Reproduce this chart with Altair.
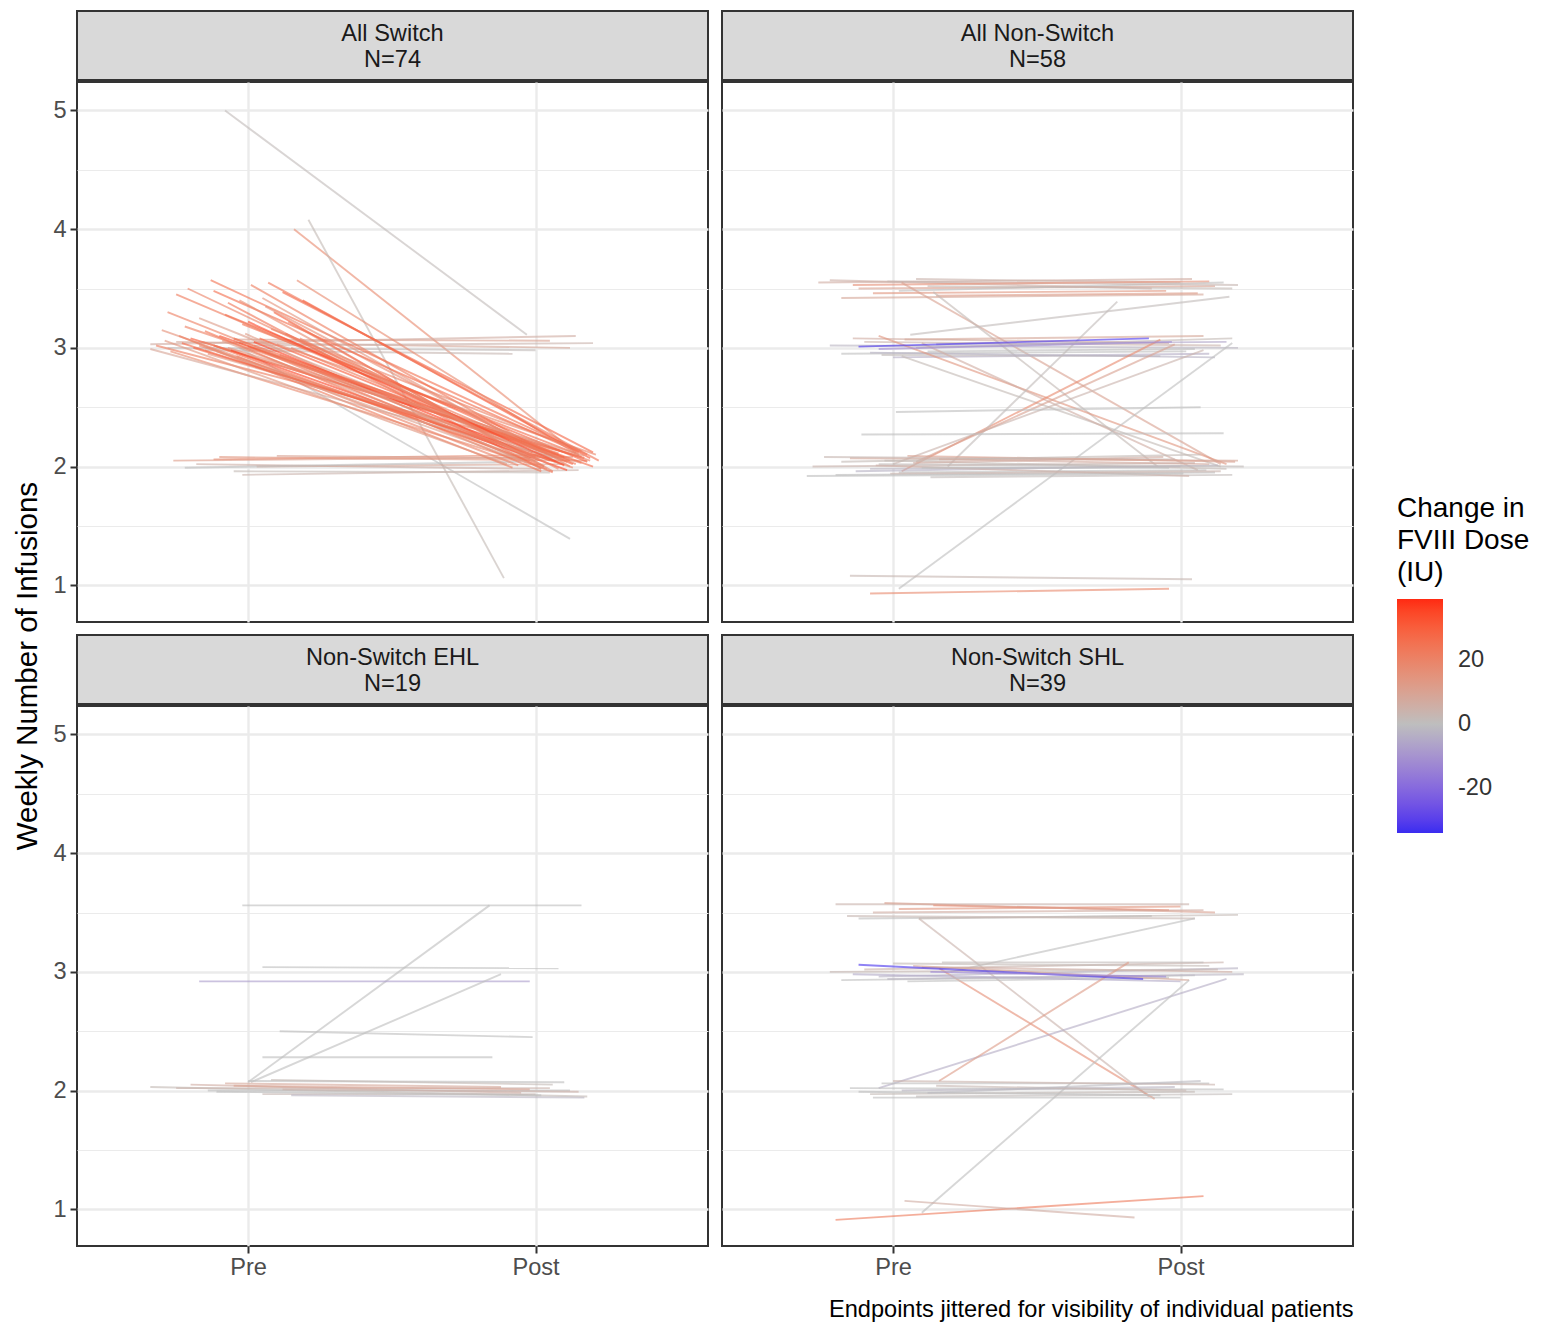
import altair as alt
import pandas as pd

FONT = "Liberation Sans"
PANEL_TITLES = ["All Switch", "All Non-Switch", "Non-Switch EHL", "Non-Switch SHL"]
PANEL_N = [74, 58, 19, 39]
X_TICK_VALUES = [1, 2]
X_TICK_LABELS = ["Pre", "Post"]
Y_GRID_VALUES = [1, 1.5, 2, 2.5, 3, 3.5, 4, 4.5, 5]
LEGEND_VALUES = [-20, 0, 20]
COLOR_STOPS = [-34, 0, 39]
COLOR_RANGE = ["#3A2CF0", "#BEBEBE", "#FF2A12"]
COLUMNS = ["pre_x", "pre_y", "post_x", "post_y", "change"]

# (pre_x jittered, pre_y, post_x jittered, post_y, change in dose)
all_switch = [
    (0.92, 5.00, 1.97, 3.11, 1), (1.16, 4.00, 2.15, 2.10, 18), (1.21, 4.08, 1.89, 1.06, 2),
    (0.97, 3.00, 2.12, 1.39, 0),
    (0.66, 3.03, 2.14, 3.10, 6), (0.75, 3.05, 2.12, 3.00, 8), (0.85, 2.98, 1.92, 2.95, 3),
    (0.95, 3.07, 2.05, 3.06, 10), (1.02, 3.02, 2.20, 3.04, 4), (0.72, 3.00, 2.00, 2.98, 1),
    (0.74, 2.05, 2.13, 2.08, 12), (0.82, 2.02, 2.02, 1.98, 5), (0.90, 2.08, 2.18, 2.05, 14),
    (0.95, 1.96, 2.05, 1.95, 2), (1.03, 2.00, 2.10, 2.02, 8), (0.78, 1.99, 1.95, 2.04, 0),
    (0.88, 2.06, 2.08, 2.10, 16), (1.10, 2.09, 1.97, 2.07, 10), (0.98, 1.93, 2.15, 1.97, 4),
    (0.79, 3.50, 2.05, 2.05, 20), (0.87, 3.57, 2.18, 2.10, 25), (1.01, 3.53, 2.12, 2.00, 22),
    (1.12, 3.47, 2.20, 2.12, 28), (1.17, 3.57, 2.16, 2.08, 18), (1.05, 3.42, 2.08, 2.03, 15),
    (0.93, 3.38, 2.02, 1.98, 24), (1.09, 3.30, 1.98, 2.06, 30), (0.83, 3.25, 2.10, 2.02, 12),
    (0.98, 3.20, 2.14, 2.11, 26), (1.14, 3.22, 2.06, 1.96, 20), (0.70, 3.15, 2.00, 2.04, 16),
    (0.76, 3.10, 1.92, 1.99, 22), (0.80, 3.08, 2.17, 2.07, 32), (0.84, 3.05, 2.09, 2.13, 18),
    (0.88, 3.02, 2.03, 2.00, 27), (0.91, 3.06, 1.96, 2.09, 14), (0.94, 2.98, 2.11, 1.97, 35),
    (0.97, 3.04, 2.19, 2.05, 20), (1.00, 3.01, 2.07, 2.10, 25), (1.04, 3.08, 2.13, 2.02, 30),
    (1.07, 2.96, 2.01, 2.06, 12), (0.68, 3.02, 2.15, 2.09, 22), (0.73, 2.97, 2.04, 1.98, 18),
    (0.81, 3.00, 1.99, 2.12, 28), (0.86, 2.95, 2.16, 2.03, 15), (0.90, 3.10, 2.10, 2.08, 33),
    (0.96, 2.93, 1.94, 2.01, 20), (1.03, 2.99, 2.06, 1.95, 24), (1.10, 3.03, 2.21, 2.10, 19),
    (1.13, 3.12, 2.12, 2.05, 26), (0.78, 3.18, 2.08, 2.11, 21), (0.92, 3.28, 2.18, 2.04, 29),
    (1.06, 3.35, 2.05, 2.09, 17), (0.75, 3.45, 2.14, 2.02, 23), (1.19, 3.40, 2.19, 2.07, 31),
    (0.99, 3.12, 1.97, 2.03, 13), (0.85, 3.14, 2.02, 1.96, 25), (1.08, 3.16, 2.16, 2.13, 20),
    (0.66, 2.99, 2.09, 2.06, 9), (0.71, 3.06, 1.90, 2.02, 14), (0.95, 3.08, 2.20, 2.00, 27),
    (1.02, 3.05, 2.00, 2.08, 36), (1.15, 3.00, 2.11, 2.04, 22), (0.89, 2.97, 1.93, 2.07, 11),
    (0.83, 3.02, 2.13, 1.99, 19), (1.11, 2.94, 2.04, 2.11, 23), (0.77, 3.04, 2.07, 2.04, 28),
    (0.93, 3.00, 2.17, 2.09, 16), (1.00, 3.22, 2.10, 2.01, 34), (0.72, 3.30, 2.01, 2.06, 21),
    (0.88, 3.48, 2.15, 2.12, 26), (1.07, 3.55, 2.22, 2.05, 24), (0.97, 3.40, 2.03, 2.00, 18),
    (1.18, 3.08, 2.08, 1.98, 20),
]

all_non_switch = [
    (0.74, 3.55, 2.04, 3.58, 6), (0.88, 3.50, 2.12, 3.52, 10), (1.08, 3.58, 2.00, 3.55, 4),
    (0.93, 3.46, 1.95, 3.48, 14), (1.12, 3.52, 2.18, 3.50, 2), (0.82, 3.42, 2.08, 3.45, 8),
    (1.02, 3.48, 2.15, 3.55, 0), (0.78, 3.57, 1.90, 3.50, 5), (1.15, 3.44, 2.06, 3.46, 12),
    (0.98, 3.56, 2.20, 3.53, 3), (0.86, 3.53, 2.10, 3.56, 16),
    (1.03, 3.55, 2.14, 2.02, 10), (1.14, 3.47, 1.92, 2.00, 2),
    (1.06, 3.11, 2.17, 3.43, 1),
    (0.82, 2.95, 2.02, 2.97, 0), (0.90, 3.05, 2.14, 3.02, 4), (1.00, 2.92, 2.10, 2.95, -4),
    (1.08, 3.00, 2.18, 3.08, 2), (0.86, 3.08, 1.96, 3.04, 6), (1.12, 2.97, 2.05, 2.99, 0),
    (0.78, 3.02, 2.20, 3.00, -2), (0.96, 2.94, 1.93, 2.93, 1), (1.04, 3.07, 2.08, 3.10, 8),
    (1.15, 3.03, 2.16, 3.05, -6), (0.92, 2.96, 2.12, 2.92, -3),
    (0.95, 3.10, 2.16, 2.02, 14), (1.03, 2.93, 2.14, 2.00, 2), (1.10, 3.04, 2.06, 1.97, 6),
    (1.03, 1.96, 1.93, 3.07, 18), (1.19, 2.00, 1.78, 3.39, 1), (1.00, 2.02, 2.08, 2.98, 4),
    (1.08, 2.04, 1.98, 3.03, 10),
    (1.02, 0.97, 2.18, 3.04, 0),
    (1.01, 2.46, 2.07, 2.50, 0), (0.89, 2.27, 2.15, 2.28, 0),
    (0.72, 2.00, 2.05, 2.03, 4), (0.80, 1.93, 2.12, 1.95, 0), (0.85, 2.07, 2.20, 2.05, 8),
    (0.92, 1.98, 2.00, 2.00, -2), (0.97, 2.05, 2.16, 1.98, 2), (1.02, 1.95, 2.09, 1.97, 0),
    (1.07, 2.03, 1.94, 2.08, 6), (1.13, 1.91, 2.18, 1.93, 1), (0.76, 2.08, 1.98, 2.06, 3),
    (0.87, 1.96, 2.13, 2.01, -3), (0.94, 2.01, 2.03, 1.92, 5), (1.05, 2.09, 2.19, 2.04, 10),
    (1.10, 1.99, 1.96, 1.99, 0), (0.82, 2.04, 2.07, 2.10, 2), (0.99, 1.94, 2.14, 1.96, 4),
    (0.70, 1.92, 2.01, 1.94, 0), (1.16, 2.06, 2.10, 2.02, 7), (0.95, 2.02, 2.22, 2.00, 1),
    (0.88, 3.01, 1.89, 3.08, -32), (0.95, 2.99, 1.97, 3.05, -12),
    (0.85, 1.08, 2.04, 1.05, 3), (0.92, 0.93, 1.96, 0.97, 18),
]

non_switch_ehl = [
    (0.98, 3.56, 2.16, 3.56, 0), (1.00, 2.07, 1.84, 3.56, 0), (1.05, 3.04, 2.08, 3.03, 0),
    (0.83, 2.92, 1.98, 2.92, -8), (1.01, 2.07, 1.88, 2.98, 0), (1.11, 2.50, 1.99, 2.45, 0),
    (1.05, 2.28, 1.85, 2.28, 0),
    (0.66, 2.03, 2.18, 1.95, 2), (0.75, 2.02, 2.05, 2.02, 4), (0.80, 2.05, 1.95, 1.98, 6),
    (0.86, 2.00, 2.12, 2.00, 0), (0.92, 2.06, 1.88, 2.03, 8), (1.00, 2.08, 2.10, 2.07, 0),
    (1.05, 1.97, 2.00, 1.97, 3), (1.12, 2.01, 2.15, 1.99, 5), (0.95, 2.04, 1.98, 2.01, 10),
    (1.08, 2.09, 2.06, 2.05, 2), (0.89, 1.99, 2.02, 1.96, 0), (1.15, 1.96, 2.17, 1.94, -2),
]

non_switch_shl = [
    (0.80, 3.57, 2.03, 3.57, 4), (1.02, 3.53, 2.00, 3.55, 14), (1.14, 3.56, 1.96, 3.52, 20),
    (0.93, 3.50, 2.08, 3.52, 6), (0.88, 3.45, 1.90, 3.47, 0), (1.09, 3.45, 2.20, 3.48, 2),
    (0.97, 3.58, 2.12, 3.50, 10), (0.84, 3.47, 2.05, 3.45, 3),
    (1.09, 3.45, 1.89, 1.95, 4), (1.16, 3.03, 1.91, 1.93, 16),
    (1.20, 3.00, 2.05, 3.45, 0),
    (0.82, 2.93, 2.05, 2.97, 0), (0.90, 3.02, 2.15, 3.08, 4), (0.95, 2.96, 2.20, 3.03, -3),
    (1.00, 3.07, 2.10, 3.05, 2), (1.05, 2.92, 1.96, 2.95, 0), (1.10, 3.04, 2.18, 3.00, 6),
    (0.86, 2.98, 2.00, 2.92, -5), (1.17, 3.08, 2.08, 3.08, 1), (0.78, 3.00, 2.13, 3.02, 3),
    (0.98, 2.94, 2.22, 2.98, -2), (1.07, 3.05, 2.03, 2.93, 8),
    (0.95, 2.02, 2.16, 2.94, -4), (1.16, 2.08, 1.82, 3.08, 12),
    (1.10, 0.97, 2.03, 2.93, 0),
    (0.85, 2.02, 2.15, 2.01, 0), (0.92, 1.97, 2.05, 1.99, 2), (0.96, 2.06, 2.10, 2.06, 0),
    (1.03, 2.00, 1.98, 2.03, -2), (1.08, 1.95, 2.18, 1.97, 1), (1.15, 2.04, 2.02, 2.00, 3),
    (0.88, 1.99, 1.93, 1.96, 0), (1.00, 2.08, 2.12, 2.05, 4), (1.12, 1.98, 2.07, 2.08, -1),
    (0.93, 1.94, 2.00, 1.94, 0),
    (0.88, 3.06, 1.87, 2.94, -32), (1.13, 3.00, 1.95, 2.96, -14),
    (0.80, 0.91, 2.08, 1.11, 22), (1.04, 1.07, 1.84, 0.93, 6),
]

PANEL_DATA = [all_switch, all_non_switch, non_switch_ehl, non_switch_shl]

W = 631
H = 540
HH = 69
X_DOMAIN = [0.405, 2.60]
Y_DOMAIN = [0.69, 5.24]
SMALL = 23.6
BIG = 29.5

color_scale = alt.Scale(domain=COLOR_STOPS, range=COLOR_RANGE, interpolate="lab")
is_minor = "datum.value % 1 !== 0"
label_expr_x = "datum.value == %d ? '%s' : '%s'" % (X_TICK_VALUES[0], X_TICK_LABELS[0], X_TICK_LABELS[1])


def make_cell(idx, show_y, show_x, caption=None):
    df = pd.DataFrame(PANEL_DATA[idx], columns=COLUMNS)
    head_df = pd.DataFrame({"label": [f"{PANEL_TITLES[idx]}\nN={PANEL_N[idx]}"]})
    header = alt.Chart(head_df).mark_text(
        lineBreak="\n", fontSize=SMALL, lineHeight=26, font=FONT, color="#1A1A1A",
        align="center", baseline="middle"
    ).encode(
        text="label:N", x=alt.value(W / 2), y=alt.value(HH / 2 - 12)
    ).properties(
        width=W, height=HH,
        view=alt.ViewBackground(fill="#D9D9D9", stroke="#333333", strokeWidth=2),
    )

    x_axis_kwargs = dict(
        values=X_TICK_VALUES, labelExpr=label_expr_x, labels=show_x, ticks=show_x,
        domain=False, grid=True, gridColor="#EBEBEB", gridWidth=2.4,
        labelFontSize=SMALL, labelColor="#4D4D4D", labelFont=FONT, labelPadding=2,
        tickSize=7, tickWidth=2, tickColor="#333333",
    )
    if caption:
        x_axis_kwargs.update(title=caption, titleAnchor="end", titleFontSize=SMALL,
                             titleFont=FONT, titleFontWeight="normal", titleColor="#000000",
                             titlePadding=19)
    else:
        x_axis_kwargs.update(title=None)

    y_axis = alt.Axis(
        values=Y_GRID_VALUES,
        labelExpr="datum.value % 1 === 0 ? '' + datum.value : ''",
        labels=show_y, ticks=show_y, domain=False, grid=True, title=None,
        gridColor="#EBEBEB",
        gridWidth={"condition": {"test": is_minor, "value": 1.2}, "value": 2.4},
        tickOpacity={"condition": {"test": is_minor, "value": 0}, "value": 1},
        labelFontSize=SMALL, labelColor="#4D4D4D", labelFont=FONT, labelPadding=4,
        tickSize=7, tickWidth=2, tickColor="#333333",
    )

    plot = alt.Chart(df).mark_rule(strokeWidth=1.9, strokeOpacity=0.62).encode(
        x=alt.X("pre_x:Q", scale=alt.Scale(domain=X_DOMAIN, nice=False, zero=False),
                axis=alt.Axis(**x_axis_kwargs)),
        x2="post_x:Q",
        y=alt.Y("pre_y:Q", scale=alt.Scale(domain=Y_DOMAIN, nice=False, zero=False), axis=y_axis),
        y2="post_y:Q",
        color=alt.Color(
            "change:Q", scale=color_scale,
            legend=alt.Legend(
                title=["Change in", "FVIII Dose", "(IU)"], values=LEGEND_VALUES,
                labelExpr="'' + datum.value", orient="none", legendX=1320, legendY=484,
                gradientLength=234, gradientThickness=46, gradientStrokeWidth=0,
                titleFontSize=28, titleFont=FONT, titleFontWeight="normal",
                titleColor="#000000", titleLineHeight=32, titlePadding=12,
                labelFontSize=SMALL, labelFont=FONT, labelColor="#333333", labelOffset=15,
            ),
        ),
    ).properties(width=W, height=H)
    return alt.vconcat(header, plot, spacing=0)


row1 = alt.hconcat(make_cell(0, True, False), make_cell(1, False, False), spacing=12)
row2 = alt.hconcat(
    make_cell(2, True, True),
    make_cell(3, False, True, caption="Endpoints jittered for visibility of individual patients"),
    spacing=12,
)

chart = alt.vconcat(row1, row2, spacing=11).resolve_scale(color="shared").properties(
    title=alt.TitleParams(
        "Weekly Number of Infusions", orient="left", anchor="middle", fontSize=BIG,
        font=FONT, fontWeight="normal", color="#000000", offset=8,
    ),
    padding={"left": 5, "top": 2, "right": 2, "bottom": 2},
).configure(font=FONT).configure_view(stroke="#333333", strokeWidth=2, fill="white")

chart.save("out.html", embed_options={"renderer": "svg", "actions": False})
